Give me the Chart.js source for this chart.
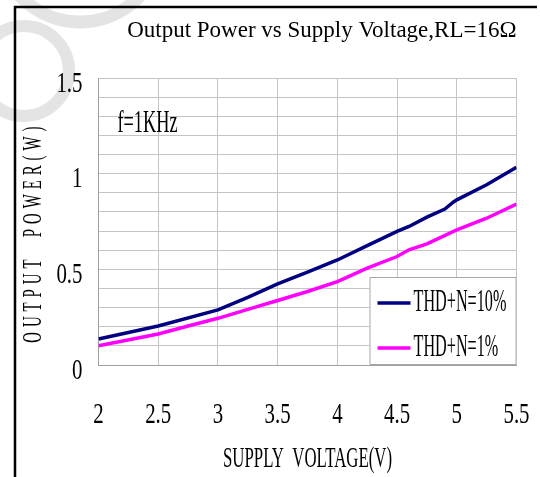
<!DOCTYPE html>
<html>
<head>
<meta charset="utf-8">
<script src="https://cdn.jsdelivr.net/npm/chart.js@4/dist/chart.umd.min.js"></script>
<style>
  html, body { margin: 0; padding: 0; background: #fff; }
  canvas { display: block; }
</style>
</head>
<body>
<canvas id="c" width="540" height="477"></canvas>
<script>
// ---- data ----
const chartTitle = 'Output Power vs Supply Voltage,RL=16Ω';
const xTitle = 'SUPPLY  VOLTAGE(V)';
const yTitle = 'OUTPUT  POWER(W)';
const seriesNames = ['THD+N=10%', 'THD+N=1%'];
const seriesColors = ['#000080', '#ff00ff'];

const volt10 = [2.0, 2.5, 3.0, 3.25, 3.5, 3.75, 4.0, 4.25, 4.5, 4.6, 4.75, 4.9, 4.97, 5.0, 5.25, 5.5];
const power10 = [0.136, 0.204, 0.288, 0.354, 0.424, 0.485, 0.549, 0.624, 0.698, 0.724, 0.773, 0.815, 0.851, 0.863, 0.942, 1.033];

const volt1 = [2.0, 2.5, 2.75, 3.0, 3.25, 3.5, 3.75, 4.0, 4.25, 4.5, 4.6, 4.75, 5.0, 5.25, 5.5];
const power1 = [0.101, 0.162, 0.204, 0.244, 0.291, 0.337, 0.384, 0.436, 0.506, 0.567, 0.602, 0.633, 0.706, 0.767, 0.841];

const xTickValues = [2, 2.5, 3, 3.5, 4, 4.5, 5, 5.5];
const xTickLabels = ['2', '2.5', '3', '3.5', '4', '4.5', '5', '5.5'];
const yTickValues = [0, 0.5, 1, 1.5];
const yTickLabels = ['0', '0.5', '1', '1.5'];
const note = { text: 'f=1KHz', x: 2.41, y: 1.26 };

// ---- narrow, tall lettering like the reference (horizontal condensing per font size) ----
const FAM = '"Liberation Serif", "DejaVu Serif", serif';
const CONDENSE = { 23: 1, 29: 0.72, 30: 0.56, 27: 0.55, 31: 0.59, 32: 0.506 };
const Y_SPACING = 9;
function kFor(font) {
  const m = /(\d+(?:\.\d+)?)px/.exec(font);
  return m ? (CONDENSE[Math.round(+m[1])] || 1) : 1;
}
const P = CanvasRenderingContext2D.prototype;
const rawFill = P.fillText, rawMeasure = P.measureText;
P.fillText = function (text, x, y) {
  const k = kFor(this.font);
  if (k === 1) return rawFill.call(this, text, x, y);
  this.save();
  this.translate(x, y);
  this.scale(k, 1);
  if (text === yTitle && 'letterSpacing' in this) {
    this.letterSpacing = '0px';
    const w = rawMeasure.call(this, text).width + Y_SPACING * (text.length - 1);
    this.letterSpacing = Y_SPACING + 'px';
    this.textAlign = 'left';
    rawFill.call(this, text, -w / 2 - 24, 0);
  } else {
    rawFill.call(this, text, 0, 0);
  }
  this.restore();
};
P.measureText = function (text) {
  const m = rawMeasure.call(this, text);
  const k = kFor(this.font);
  if (k === 1) return m;
  return { width: m.width * k, actualBoundingBoxAscent: m.actualBoundingBoxAscent, actualBoundingBoxDescent: m.actualBoundingBoxDescent };
};

const decor = {
  id: 'decor',
  beforeDraw(chart) {
    const ctx = chart.ctx;
    ctx.save();
    ctx.fillStyle = '#fff';
    ctx.fillRect(0, 0, chart.width, chart.height);
    // faint watermark arcs
    ctx.strokeStyle = '#e4e4e4';
    ctx.lineWidth = 12;
    ctx.beginPath(); ctx.arc(24, 71, 45, 0, Math.PI * 2); ctx.stroke();
    ctx.lineWidth = 13;
    ctx.beginPath(); ctx.arc(80, -60, 82, 0, Math.PI); ctx.stroke();
    // frame
    ctx.strokeStyle = '#000';
    ctx.lineWidth = 2.5;
    ctx.beginPath(); ctx.moveTo(15, 480); ctx.lineTo(15, 7); ctx.lineTo(537, 7); ctx.stroke();
    ctx.restore();
  },
  afterDraw(chart) {
    const ctx = chart.ctx, a = chart.chartArea;
    const xs = chart.scales.x, ys = chart.scales.y;
    ctx.save();
    // note
    ctx.fillStyle = '#000';
    ctx.font = '31px ' + FAM;
    ctx.textAlign = 'center';
    ctx.textBaseline = 'middle';
    ctx.fillText(note.text, xs.getPixelForValue(note.x), ys.getPixelForValue(note.y));
    // legend box
    const bw = 147, bh = 88;
    const bx = a.right - bw, by = a.bottom - bh;
    ctx.fillStyle = '#fff';
    ctx.fillRect(bx, by, bw, bh);
    ctx.strokeStyle = '#a8a8a8';
    ctx.lineWidth = 1;
    ctx.strokeRect(bx + 0.5, by + 0.5, bw - 1, bh - 1);
    chart.data.datasets.forEach((ds, i) => {
      const cy = by + 26 + i * 45;
      ctx.strokeStyle = ds.borderColor;
      ctx.lineWidth = 3.5;
      ctx.beginPath(); ctx.moveTo(bx + 8, cy); ctx.lineTo(bx + 41, cy); ctx.stroke();
      ctx.fillStyle = '#000';
      ctx.font = '32px ' + FAM;
      ctx.textAlign = 'left';
      ctx.textBaseline = 'middle';
      ctx.fillText(ds.label, bx + 44, cy);
    });
    ctx.restore();
  }
};

Chart.defaults.color = '#000';
const grid = { color: '#c4c4c4', lineWidth: 1, drawTicks: false };

new Chart(document.getElementById('c'), {
  type: 'line',
  data: {
    datasets: [
      { label: seriesNames[0], data: volt10.map((v, i) => ({ x: v, y: power10[i] })), borderColor: seriesColors[0], backgroundColor: seriesColors[0] },
      { label: seriesNames[1], data: volt1.map((v, i) => ({ x: v, y: power1[i] })), borderColor: seriesColors[1], backgroundColor: seriesColors[1] }
    ]
  },
  options: {
    responsive: false,
    animation: false,
    devicePixelRatio: 1,
    layout: { padding: { left: 0, right: 23.5, top: 0, bottom: 0 } },
    elements: { point: { radius: 0 }, line: { tension: 0, borderWidth: 3.5 } },
    plugins: {
      legend: { display: false },
      tooltip: { enabled: false },
      title: {
        display: true, text: chartTitle, align: 'end',
        font: { family: FAM, size: 23, weight: 'normal' },
        padding: { top: 17, bottom: 33.4 }, color: '#000'
      }
    },
    scales: {
      x: {
        type: 'linear', min: 2, max: 5.5,
        grid: grid,
        border: { color: '#a0a0a0' },
        afterBuildTicks: s => { s.ticks = xTickValues.map(v => ({ value: v })); },
        afterFit: s => { s.height = 112; s.paddingLeft = 0; s.paddingRight = 0; },
        ticks: {
          font: { family: FAM, size: 29 }, padding: 33, maxRotation: 0, autoSkip: false,
          callback: v => { const i = xTickValues.findIndex(t => Math.abs(t - v) < 1e-6); return i >= 0 ? xTickLabels[i] : ''; }
        },
        title: { display: true, text: xTitle, font: { family: FAM, size: 30 }, padding: { top: 0, bottom: 0 } }
      },
      y: {
        type: 'linear', min: 0, max: 1.5,
        grid: grid,
        border: { color: '#a0a0a0' },
        afterFit: s => { s.width = 98.5; s.paddingTop = 0; s.paddingBottom = 0; },
        ticks: {
          stepSize: 0.1, autoSkip: false, padding: 16, labelOffset: 6,
          font: { family: FAM, size: 29 },
          callback: v => { const i = yTickValues.findIndex(t => Math.abs(t - v) < 1e-6); return i >= 0 ? yTickLabels[i] : ''; }
        },
        title: { display: true, text: yTitle, font: { family: FAM, size: 27 }, padding: { top: 18, bottom: 0 } }
      }
    }
  },
  plugins: [decor]
});
</script>
</body>
</html>
